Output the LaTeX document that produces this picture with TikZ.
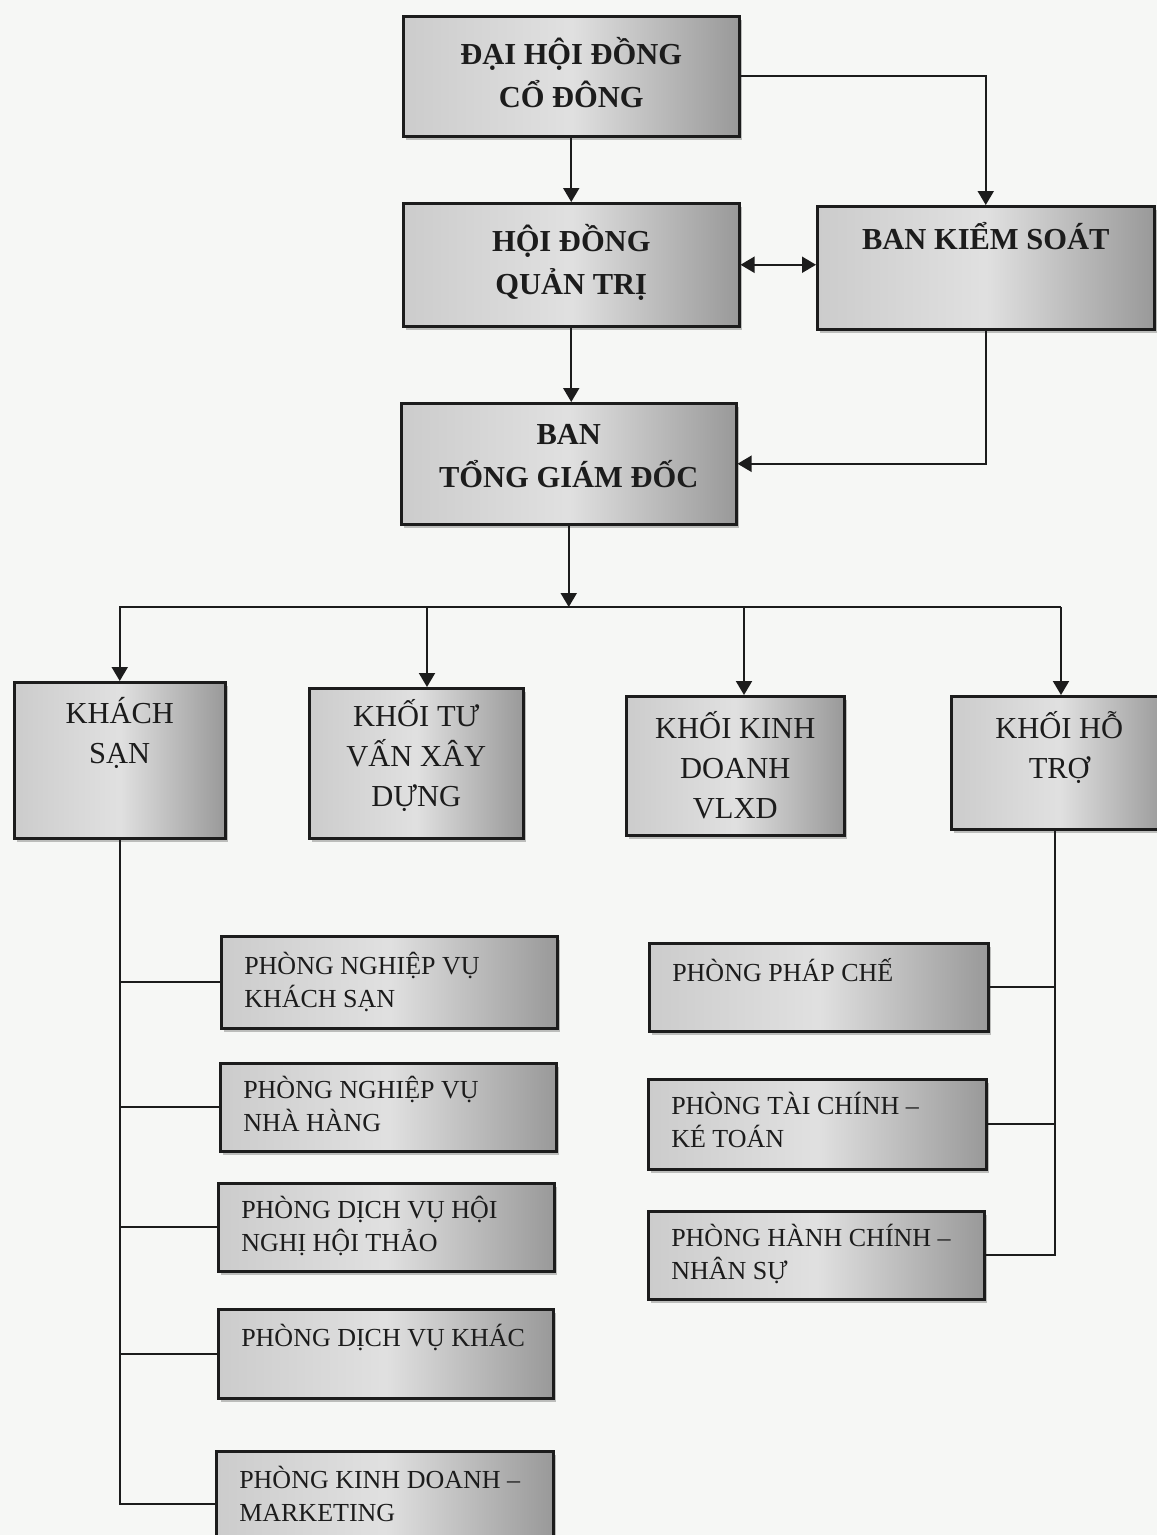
\documentclass[tikz,border=0pt]{standalone}
\usepackage{fontspec}
\setmainfont{Liberation Serif}
\usetikzlibrary{arrows.meta,shadows}

\definecolor{paper}{RGB}{246,247,245}
\definecolor{ink}{RGB}{28,28,28}

\tikzset{
  box/.style={draw=ink, line width=2.5pt, inner sep=0pt, anchor=north west,
    left color=black!20, right color=black!40, middle color=black!12,
    drop shadow={shadow xshift=3pt, shadow yshift=-4pt, fill=black!60, opacity=.4}},
  link/.style={draw=ink, line width=2pt},
  arr/.style={link, -{Triangle[length=14pt,width=16pt]}},
  both/.style={link, {Triangle[length=14pt,width=16pt]}-{Triangle[length=14pt,width=16pt]}},
}

% width, height, gap above first line, font, text
\newcommand{\boxtext}[5]{\parbox[c][#2][t]{#1}{#4\vspace*{#3}\noindent\strut #5}}
\newcommand{\bigtext}{\fontsize{30.5}{43}\selectfont\bfseries\centering}
\newcommand{\midtext}{\fontsize{30.5}{40}\selectfont\centering}
\newcommand{\smalltext}{\fontsize{26}{33}\selectfont\raggedright\leftskip=23pt}

\begin{document}
\begin{tikzpicture}[x=1pt, y=-1pt, color=ink]
  \useasboundingbox (0,0) rectangle (1157,1535);
  \fill[paper] (0,0) rectangle (1157,1535);

  % top
  \node[box] (dhdcd) at (402,15) {\boxtext{336pt}{120pt}{18pt}{\bigtext}{ĐẠI HỘI ĐỒNG\\CỔ ĐÔNG}};
  \node[box] (hdqt) at (402,202) {\boxtext{336pt}{123pt}{18pt}{\bigtext}{HỘI ĐỒNG\\QUẢN TRỊ}};
  \node[box] (bks) at (816,205) {\boxtext{337pt}{123pt}{13pt}{\bigtext}{BAN KIỂM SOÁT}};
  \node[box] (btgd) at (400,402) {\boxtext{335pt}{121pt}{11pt}{\bigtext}{BAN\\TỔNG GIÁM ĐỐC}};

  % khoi
  \node[box] (ks) at (13,681) {\boxtext{211pt}{156pt}{13pt}{\midtext}{KHÁCH\\SẠN}};
  \node[box] (ktv) at (308,687) {\boxtext{214pt}{150pt}{10pt}{\midtext}{KHỐI TƯ\\VẤN XÂY\\DỰNG}};
  \node[box] (kkd) at (625,695) {\boxtext{218pt}{139pt}{14pt}{\midtext}{KHỐI KINH\\DOANH\\VLXD}};
  \node[box] (kht) at (950,695) {\boxtext{216pt}{133pt}{14pt}{\midtext}{KHỐI HỖ\\TRỢ}};

  % phong, left
  \node[box] (pnvks) at (220,935) {\boxtext{336pt}{92pt}{15pt}{\smalltext}{PHÒNG NGHIỆP VỤ\\KHÁCH SẠN}};
  \node[box] (pnvnh) at (219,1062) {\boxtext{336pt}{88pt}{12pt}{\smalltext}{PHÒNG NGHIỆP VỤ\\NHÀ HÀNG}};
  \node[box] (pdvhn) at (217,1182) {\boxtext{336pt}{88pt}{12pt}{\smalltext}{PHÒNG DỊCH VỤ HỘI\\NGHỊ HỘI THẢO}};
  \node[box] (pdvk) at (217,1308) {\boxtext{335pt}{89pt}{14pt}{\smalltext}{PHÒNG DỊCH VỤ KHÁC}};
  \node[box] (pkd) at (215,1450) {\boxtext{337pt}{106pt}{14pt}{\smalltext}{PHÒNG KINH DOANH –\\MARKETING}};

  % phong, right
  \node[box] (ppc) at (648,942) {\boxtext{339pt}{88pt}{15pt}{\smalltext}{PHÒNG PHÁP CHẾ}};
  \node[box] (ptckt) at (647,1078) {\boxtext{338pt}{90pt}{12pt}{\smalltext}{PHÒNG TÀI CHÍNH –\\KÉ TOÁN}};
  \node[box] (phcns) at (647,1210) {\boxtext{336pt}{88pt}{12pt}{\smalltext}{PHÒNG HÀNH CHÍNH –\\NHÂN SỰ}};

  \coordinate (bus) at (567,607);
  \coordinate (ktv-in) at (427,607);
  \coordinate (kkd-in) at (744,607);
  \coordinate (kht-in) at (1061,607);
  \coordinate (kht-out) at (1055,828);

  \draw[arr] (dhdcd.south) -- (hdqt.north);
  \draw[arr] (dhdcd.east) -| (bks.north);
  \draw[both] (hdqt.east) -- (hdqt.east -| bks.west);
  \draw[arr] (hdqt.south) -- (hdqt.south |- btgd.north);
  \draw[arr] (bks.south) |- (btgd.east);
  \draw[arr] (btgd.south) -- (btgd.south |- bus);

  \draw[arr] (kht-in) -- (ks.north |- bus) -- (ks.north);
  \foreach \n in {ktv,kkd,kht}
  \draw[arr] (\n-in) -- (\n-in |- \n.north);

  \draw[link] (ks.south) |- (pkd.west);
  \foreach \n in {pnvks,pnvnh,pdvhn,pdvk}
  \draw[link] (ks.south |- \n.west) -- (\n.west);

  \draw[link] (kht-out) |- (phcns.east);
  \foreach \n in {ppc,ptckt}
  \draw[link] (kht-out |- \n.east) -- (\n.east);
\end{tikzpicture}
\end{document}
